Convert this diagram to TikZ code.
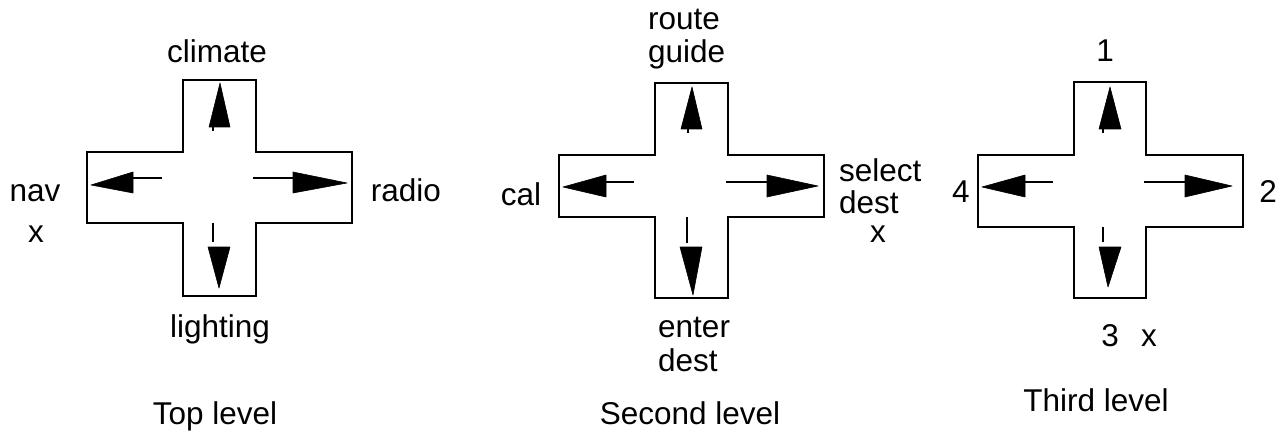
\documentclass[tikz,border=0pt]{standalone}
\usepackage{fontspec}
\setmainfont{Liberation Sans}
\begin{document}
\begin{tikzpicture}[x=1pt,y=-1pt,
  crossbox/.style={line width=2.6pt,line join=miter},
  stem/.style={line width=2pt},
  head/.style={fill=black,draw=black,line width=0.6pt,line join=round},
  lbl/.style={inner sep=0pt,font=\fontsize{31.5}{33}\selectfont},
  lblc/.style={lbl,anchor=base},
  lblw/.style={lbl,anchor=base west}]
\useasboundingbox (0,0) rectangle (1286,433);

% ---------- Top level ----------
\draw[crossbox] (87,152) -- (183,152) -- (183,80) -- (256,80) -- (256,152) -- (352,152)
  -- (352,223) -- (256,223) -- (256,296) -- (183,296) -- (183,223) -- (87,223) -- cycle;
\draw[stem] (133,178) -- (162,178);
\filldraw[head] (91,185) -- (133,172) -- (133,193) -- cycle;
\draw[stem] (253,178) -- (293,178);
\filldraw[head] (293,172) -- (293,193) -- (347,183) -- cycle;
\draw[stem] (213,126) -- (213,131);
\filldraw[head] (220,83) -- (209,127) -- (230,127) -- cycle;
\draw[stem] (213,223) -- (213,242);
\filldraw[head] (208,247) -- (230,247) -- (219,288) -- cycle;

\node[lblc] (climate) at (217,63) {climate};
\node[lblc] (nav) at (35,202) {nav};
\node[lblc] (navx) at (36,243) {x};
\node[lblc] (radio) at (406,202) {radio};
\node[lblc] (lighting) at (220,337) {lighting};
\node[lblc] (top) at (215,424) {Top level};

% ---------- Second level ----------
\draw[crossbox] (559,155) -- (655,155) -- (655,83) -- (728,83) -- (728,155) -- (824,155)
  -- (824,217) -- (728,217) -- (728,298) -- (655,298) -- (655,217) -- (559,217) -- cycle;
\draw[stem] (606,182) -- (634,182);
\filldraw[head] (563,187) -- (606,175) -- (606,197) -- cycle;
\draw[stem] (726,182) -- (767,182);
\filldraw[head] (767,175) -- (767,197) -- (818,186) -- cycle;
\draw[stem] (688,128) -- (688,133);
\filldraw[head] (692,87) -- (681,129) -- (702,129) -- cycle;
\draw[stem] (687,217) -- (687,243);
\filldraw[head] (680,247) -- (702,247) -- (693,295) -- cycle;

\node[lblw] (route) at (648,30) {route};
\node[lblw] (guide) at (648,63) {guide};
\node[lblc] (cal) at (521,205) {cal};
\node[lblw] (select) at (839,182) {select};
\node[lblw] (sdest) at (839,213) {dest};
\node[lblc] (selx) at (878,243) {x};
\node[lblw] (enter) at (658,337) {enter};
\node[lblw] (edest) at (658,371) {dest};
\node[lblc] (second) at (690,424) {Second level};

% ---------- Third level ----------
\draw[crossbox] (978,155) -- (1074,155) -- (1074,82) -- (1146,82) -- (1146,155) -- (1243,155)
  -- (1243,227) -- (1146,227) -- (1146,298) -- (1074,298) -- (1074,227) -- (978,227) -- cycle;
\draw[stem] (1025,182) -- (1053,182);
\filldraw[head] (982,187) -- (1025,175) -- (1025,197) -- cycle;
\draw[stem] (1144,182) -- (1185,182);
\filldraw[head] (1185,175) -- (1185,197) -- (1232,186) -- cycle;
\draw[stem] (1103,128) -- (1103,133);
\filldraw[head] (1110,87) -- (1099,129) -- (1121,129) -- cycle;
\draw[stem] (1103,227) -- (1103,242);
\filldraw[head] (1099,247) -- (1121,247) -- (1108,287) -- cycle;

\node[lblc] (one) at (1105,62) {1};
\node[lblc] (four) at (961,203) {4};
\node[lblc] (two) at (1268,203) {2};
\node[lblc] (three) at (1110,346) {3};
\node[lblc] (threex) at (1149,346) {x};
\node[lblc] (third) at (1096,411) {Third level};
\end{tikzpicture}
\end{document}
